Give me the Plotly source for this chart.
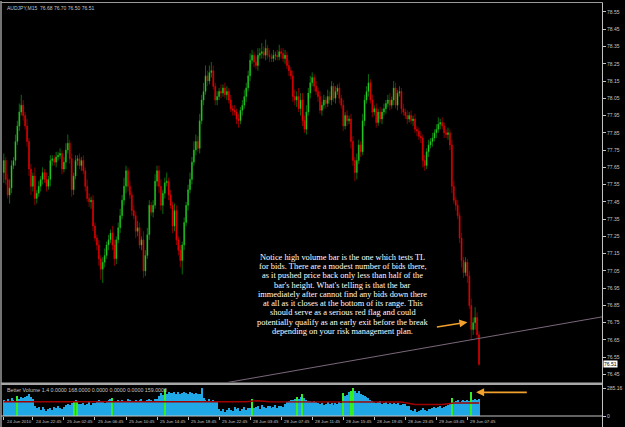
import plotly.graph_objects as go

# ---------------- data ----------------
first_open = 77.62
close = [
    77.69, 77.58, 77.49, 77.53, 77.66, 77.69, 77.80, 77.89, 77.97, 78.01,
    77.95, 77.89, 77.80, 77.64, 77.54, 77.60, 77.47, 77.50, 77.54, 77.58,
    77.62, 77.58, 77.54, 77.58, 77.69, 77.70, 77.68, 77.71, 77.72, 77.73,
    77.64, 77.68, 77.75, 77.79, 77.70, 77.52, 77.60, 77.69, 77.70, 77.66,
    77.69, 77.63, 77.54, 77.47, 77.45, 77.46, 77.31, 77.24, 77.20, 77.12,
    77.06, 77.10, 77.14, 77.20, 77.23, 77.27, 77.20, 77.12, 77.23, 77.30,
    77.37, 77.46, 77.54, 77.63, 77.54, 77.49, 77.40, 77.37, 77.28, 77.30,
    77.20, 77.23, 77.05, 77.14, 77.26, 77.43, 77.39, 77.43, 77.57, 77.63,
    77.54, 77.43, 77.50, 77.56, 77.57, 77.49, 77.43, 77.31, 77.40, 77.23,
    77.17, 77.11, 77.20, 77.33, 77.43, 77.52, 77.58, 77.68, 77.75, 77.80,
    77.76, 77.92, 78.04, 78.09, 78.18, 78.15, 78.20, 78.21, 78.12, 78.04,
    78.06, 78.09, 78.08, 78.11, 78.07, 78.09, 78.04, 77.99, 77.98, 77.97,
    77.93, 77.92, 77.98, 78.01, 78.06, 78.11, 78.18, 78.27, 78.30, 78.26,
    78.24, 78.30, 78.31, 78.32, 78.30, 78.34, 78.30, 78.29, 78.28, 78.30,
    78.30, 78.29, 78.32, 78.31, 78.28, 78.30, 78.24, 78.21, 78.18, 78.06,
    78.04, 78.06, 77.99, 78.04, 77.92, 77.87, 77.97, 78.08, 78.14, 78.17,
    78.12, 78.09, 78.06, 77.98, 78.01, 78.04, 78.02, 78.06, 78.04, 78.12,
    78.05, 78.09, 78.11, 78.05, 78.01, 77.89, 77.95, 77.92, 77.93, 77.80,
    77.69, 77.62, 77.69, 77.78, 77.74, 77.92, 78.04, 78.09, 78.14, 78.04,
    77.97, 77.99, 77.91, 77.97, 77.93, 77.97, 77.99, 78.02, 78.04, 78.01,
    78.04, 78.11, 78.01, 78.08, 78.09, 77.99, 77.97, 77.95, 77.93, 77.95,
    77.92, 77.93, 77.87, 77.86, 77.83, 77.82, 77.69, 77.66, 77.74, 77.78,
    77.80, 77.82, 77.85, 77.87, 77.90, 77.91, 77.89, 77.85, 77.84, 77.85,
    77.78, 77.54, 77.46, 77.43, 77.37, 77.24, 77.11, 77.04, 77.10, 77.02,
    76.85, 76.71, 76.75, 76.78, 76.68, 76.51,
]
upper_wick_pips = [
    4, 2, 3, 5, 3, 2, 4, 3, 5, 6,
    3, 2, 4, 2, 3, 2, 5, 2, 3, 2,
    3, 2, 4, 2, 3, 2, 2, 3, 2, 3,
    2, 3, 4, 5, 2, 3, 2, 3, 2, 3,
    2, 3, 2, 4, 3, 2, 3, 2, 2, 3,
    2, 3, 4, 2, 3, 2, 4, 3, 2, 3,
    4, 3, 5, 3, 2, 3, 2, 3, 2, 4,
    3, 2, 5, 3, 4, 3, 2, 3, 4, 3,
    3, 4, 2, 3, 5, 2, 3, 2, 4, 3,
    2, 3, 2, 3, 2, 3, 4, 3, 5, 4,
    3, 4, 3, 5, 6, 3, 4, 5, 3, 2,
    3, 2, 4, 2, 3, 3, 2, 3, 2, 3,
    2, 3, 2, 3, 4, 3, 3, 4, 3, 2,
    3, 4, 3, 5, 3, 5, 2, 3, 2, 3,
    2, 3, 4, 2, 3, 3, 2, 3, 2, 3,
    4, 3, 5, 4, 4, 3, 4, 3, 4, 3,
    2, 3, 2, 3, 2, 3, 2, 4, 3, 3,
    2, 3, 2, 3, 2, 3, 2, 3, 2, 3,
    3, 2, 4, 3, 2, 4, 3, 3, 5, 2,
    3, 2, 3, 2, 3, 2, 3, 2, 3, 4,
    2, 4, 3, 2, 3, 2, 3, 2, 3, 2,
    3, 2, 3, 2, 2, 3, 2, 3, 2, 3,
    2, 3, 2, 3, 4, 2, 3, 2, 2, 3,
    2, 3, 3, 2, 3, 2, 3, 2, 3, 2,
    3, 4, 3, 6, 3, 2,
]
lower_wick_pips = [
    6, 3, 2, 5, 3, 2, 3, 2, 3, 2,
    3, 2, 3, 4, 5, 3, 4, 3, 2, 3,
    3, 2, 3, 2, 4, 3, 2, 3, 2, 2,
    3, 2, 4, 2, 3, 4, 3, 2, 3, 2,
    3, 2, 3, 2, 3, 4, 3, 2, 3, 4,
    6, 8, 3, 2, 3, 2, 3, 4, 3, 2,
    3, 2, 3, 4, 3, 2, 3, 2, 4, 3,
    2, 3, 4, 3, 2, 3, 2, 3, 2, 3,
    4, 3, 5, 3, 2, 3, 2, 4, 3, 3,
    3, 4, 8, 3, 2, 3, 2, 3, 2, 3,
    2, 3, 2, 3, 2, 3, 2, 3, 2, 3,
    3, 2, 3, 2, 2, 3, 2, 2, 3, 2,
    3, 4, 2, 3, 2, 3, 2, 3, 2, 3,
    2, 3, 2, 3, 2, 3, 2, 3, 2, 2,
    3, 2, 2, 3, 2, 3, 2, 3, 2, 3,
    3, 4, 2, 4, 3, 2, 3, 2, 3, 2,
    3, 2, 3, 2, 3, 2, 3, 2, 2, 3,
    2, 3, 2, 3, 2, 3, 2, 3, 2, 4,
    3, 5, 4, 2, 3, 2, 3, 2, 3, 2,
    3, 2, 3, 2, 2, 3, 2, 3, 2, 3,
    2, 3, 2, 3, 2, 3, 2, 2, 3, 2,
    2, 3, 2, 3, 2, 3, 4, 3, 2, 3,
    2, 3, 2, 3, 2, 3, 2, 3, 2, 3,
    3, 4, 2, 3, 2, 3, 4, 3, 2, 4,
    2, 6, 3, 4, 2, 1,
]
volume = [
    160, 140, 170, 150, 180, 165, 155, 200, 175, 190,
    180, 195, 205, 225, 190, 170, 100, 80, 95, 65,
    90, 75, 55, 70, 85, 60, 95, 80, 105, 85,
    70, 95, 110, 120, 115, 135, 150, 160, 140, 125,
    120, 135, 110, 125, 140, 115, 130, 135, 145, 160,
    150, 140, 135, 150, 160, 170, 185, 150, 155, 160,
    145, 165, 155, 150, 170, 160, 145, 155, 165, 150,
    160, 170, 155, 145, 165, 175, 160, 155, 170, 175,
    200, 230, 210, 270, 220, 240, 235, 230, 245, 220,
    240, 225, 235, 245, 230, 225, 240, 230, 225, 235,
    225, 220, 285, 180, 165, 155, 170, 150, 160, 140,
    145, 75, 55, 70, 45, 60, 80, 65, 50, 90,
    70, 85, 55, 75, 90, 65, 85, 80, 170, 80,
    95, 105, 75, 110, 90, 85, 100, 105, 80, 95,
    110, 85, 100, 105, 90, 120, 140, 150, 160, 165,
    175, 190, 170, 195, 225, 180, 165, 155, 150, 145,
    155, 140, 135, 120, 130, 110, 125, 140, 120, 130,
    115, 135, 125, 140, 130, 230, 200, 210, 240, 255,
    285, 250, 235, 255, 225, 215, 200, 190, 180, 165,
    155, 145, 130, 140, 150, 125, 135, 140, 120, 130,
    125, 130, 120, 135, 115, 110, 120, 125, 105, 100,
    60, 50, 70, 45, 55, 65, 80, 60, 50, 75,
    70, 85, 90, 80, 95, 105, 85, 90, 100, 110,
    130, 185, 140, 150, 165, 145, 155, 160, 150, 165,
    150, 240, 165, 175, 160, 168,
]
climax_bars = [7, 36, 38, 56, 83, 128, 151, 154, 175, 179, 180, 231, 241]
avg_bar_idx = [0, 125, 131, 137, 205, 212, 226, 232, 245]
avg_volume = [145, 145, 156, 145, 143, 118, 118, 132, 132]

price_ticks = [78.55, 78.45, 78.35, 78.25, 78.15, 78.05, 77.95, 77.85, 77.75, 77.65, 77.55,
               77.45, 77.35, 77.25, 77.15, 77.05, 76.95, 76.85, 76.75, 76.65, 76.55, 76.45]
time_labels = ["24 Jun 2010", "24 Jun 22:45", "25 Jun 02:45", "25 Jun 06:45", "25 Jun 10:45",
               "25 Jun 14:45", "25 Jun 18:45", "25 Jun 22:45", "28 Jun 03:45", "28 Jun 07:45",
               "28 Jun 11:45", "28 Jun 15:45", "28 Jun 19:45", "28 Jun 23:45", "29 Jun 03:45",
               "29 Jun 07:45"]
time_label_bar = [0, 15, 31, 47, 63, 79, 95, 111, 127, 143, 159, 175, 191, 207, 223, 239]

trendline_bar = [136.8, 245.0]
trendline_price = [76.446, 76.659]

note_lines = [
    "Notice high volume bar is the one which tests TL",
    "for bids. There are a modest number of bids there,",
    "as it pushed price back only less than half of the",
    "bar's height. What's telling is that the bar",
    "immediately after cannot find any bids down there",
    "at all as it closes at the bottom of its range. This",
    "should serve as a serious red flag and could",
    "potentially qualify as an early exit before the break",
    "depending on your risk management plan.",
]
title_text = "AUDJPY,M15  76.68 76.70 76.50 76.51"
vol_label = "Better Volume 1.4 0.0000 168.0000 0.0000 0.0000 0.0000 159.0000"

# ---------------- derived OHLC ----------------
n = len(close)
idx = list(range(n))
opens = [first_open] + close[:-1]
highs = [max(o, c) + u / 100 for o, c, u in zip(opens, close, upper_wick_pips)]
lows = [min(o, c) - l / 100 for o, c, l in zip(opens, close, lower_wick_pips)]

# ---------------- layout geometry (pixels) ----------------
W, H = 625, 427
L, R, T, B = 2, 21, 2, 11
PW, PH = W - L - R, H - T - B


def px(x):
    return (x - L) / PW


def py(y):
    return (H - B - y) / PH


X_RANGE = [-0.925, 308.4]
PRICE_RANGE = [76.406, 78.602]
VOL_RANGE = [0, 305]

GREY = "#c4c4c4"
FONT = "Liberation Sans"

fig = go.Figure()

fig.add_trace(go.Candlestick(
    x=idx, open=opens, high=highs, low=lows, close=close,
    increasing=dict(line=dict(color="#18b018", width=0.6), fillcolor="#3cff3c"),
    decreasing=dict(line=dict(color="#e00000", width=0.6), fillcolor="#ff0000"),
    whiskerwidth=0, showlegend=False, hoverinfo="skip",
    xaxis="x", yaxis="y",
))

# trend line extended across the window
slope = (trendline_price[1] - trendline_price[0]) / (trendline_bar[1] - trendline_bar[0])
tl_x = [trendline_bar[0] - 40, X_RANGE[1]]
tl_y = [trendline_price[0] + slope * (xx - trendline_bar[0]) for xx in tl_x]
fig.add_trace(go.Scatter(x=tl_x, y=tl_y, mode="lines",
                         line=dict(color="#7a687a", width=1),
                         showlegend=False, hoverinfo="skip", xaxis="x", yaxis="y"))

vol_colors = ["#33ee22" if i in climax_bars else "#1fa7e6" for i in idx]
fig.add_trace(go.Bar(x=idx, y=volume, marker=dict(color=vol_colors, line=dict(width=0)),
                     width=0.55, showlegend=False, hoverinfo="skip", xaxis="x", yaxis="y2"))
fig.add_trace(go.Scatter(x=avg_bar_idx, y=avg_volume, mode="lines",
                         line=dict(color="#a00000", width=1.5),
                         showlegend=False, hoverinfo="skip", xaxis="x", yaxis="y2"))

main_bottom = py(382)
vol_top = py(386)

fig.update_layout(
    width=W, height=H,
    margin=dict(l=L, r=R, t=T, b=B, pad=0),
    paper_bgcolor="black", plot_bgcolor="black",
    bargap=0,
    xaxis=dict(range=X_RANGE, anchor="y2", showgrid=False, zeroline=False,
               showline=False, ticks="outside", ticklen=3, tickcolor=GREY,
               tickvals=time_label_bar, showticklabels=False,
               rangeslider=dict(visible=False), fixedrange=True),
    yaxis=dict(domain=[main_bottom, 1], range=PRICE_RANGE, side="right", anchor="x",
               showgrid=False, zeroline=False, showline=False,
               tickvals=price_ticks, ticktext=[f"{v:.2f}" for v in price_ticks],
               ticks="outside", ticklen=3, tickcolor=GREY,
               tickfont=dict(family=FONT, size=5, color=GREY)),
    yaxis2=dict(domain=[0, vol_top], range=VOL_RANGE, side="right", anchor="x",
                showgrid=False, zeroline=False, showline=False,
                tickvals=[0, 285.16], ticktext=["0", "285.16"],
                ticks="outside", ticklen=3, tickcolor=GREY,
                tickfont=dict(family=FONT, size=5, color=GREY)),
)

shapes = [
    dict(type="line", xref="paper", yref="paper", x0=px(1), x1=px(604.5), y0=py(1.5), y1=py(1.5),
         line=dict(color="#9a9a9a", width=1)),
    dict(type="line", xref="paper", yref="paper", x0=px(1), x1=px(1), y0=py(0), y1=py(427),
         line=dict(color="#9a9a9a", width=1.5)),
    dict(type="line", xref="paper", yref="paper", x0=px(604.5), x1=px(604.5), y0=py(1.5), y1=py(427),
         line=dict(color=GREY, width=1)),
    dict(type="rect", xref="paper", yref="paper", x0=px(1), x1=px(604.5), y0=py(385), y1=py(382.5),
         line=dict(width=0), fillcolor="#a8a8a8"),
    dict(type="line", xref="paper", yref="paper", x0=px(1), x1=px(604.5), y0=py(416), y1=py(416),
         line=dict(color=GREY, width=1)),
]
fig.update_layout(shapes=shapes)

ann = []
ann.append(dict(xref="paper", yref="paper", x=px(5), y=py(7.5), text=title_text, showarrow=False,
                xanchor="left", yanchor="middle", font=dict(family=FONT, size=5, color=GREY)))
ann.append(dict(xref="paper", yref="paper", x=px(5), y=py(389.5), text=vol_label, showarrow=False,
                xanchor="left", yanchor="middle", font=dict(family=FONT, size=5.3, color=GREY)))
for b, lab in zip(time_label_bar, time_labels):
    ann.append(dict(xref="x", yref="paper", x=b, y=py(421.5), text=lab, showarrow=False,
                    xanchor="left", yanchor="middle", xshift=1,
                    font=dict(family=FONT, size=4.4, color=GREY)))
ann.append(dict(xref="paper", yref="y", x=1, y=close[-1], text=f"{close[-1]:.2f}", showarrow=False,
                xanchor="left", yanchor="middle", xshift=1, bgcolor="white", borderpad=0,
                font=dict(family=FONT, size=5, color="black")))
for i, line in enumerate(note_lines):
    ann.append(dict(xref="paper", yref="paper", x=px(344), y=py(256.7 + 9.33 * i), text=line,
                    showarrow=False, xanchor="center", yanchor="middle",
                    font=dict(family="Liberation Serif", size=8.4, color="white")))
ann.append(dict(xref="x", yref="y", x=239.0, y=76.753, axref="x", ayref="y", ax=222.5, ay=76.724,
                text="", showarrow=True, arrowhead=2, arrowsize=1, arrowwidth=1.6,
                arrowcolor="#f2a12e"))
ann.append(dict(xref="x", yref="y2", x=243.5, y=241, axref="x", ayref="y2", ax=270.4, ay=241,
                text="", showarrow=True, arrowhead=2, arrowsize=1, arrowwidth=1.6,
                arrowcolor="#f2a12e"))
fig.update_layout(annotations=ann)

fig.write_html("out.html")
